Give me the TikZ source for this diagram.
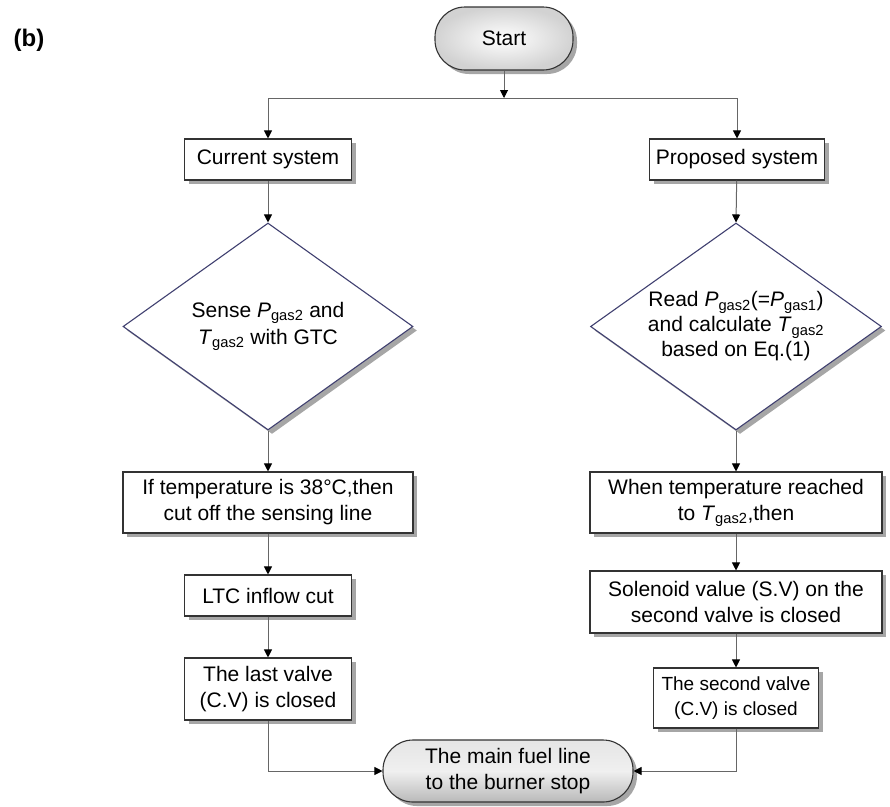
\documentclass[tikz,border=0pt]{standalone}
\usepackage{fontspec}
\setmainfont{Liberation Sans}
\usetikzlibrary{arrows.meta,shapes.geometric,shadows}
\newcommand{\sub}[2]{\textit{#1}\textsubscript{#2}}
\begin{document}
\begin{tikzpicture}[x=1pt,y=-1pt,
  every node/.style={font=\fontsize{21}{26}\selectfont, align=center, inner sep=0pt},
  shad/.style={drop shadow={shadow xshift=4pt, shadow yshift=-4pt, fill=gray!70, opacity=1}},
  procbox/.style={draw=black!80, line width=1.1pt, fill=white, shad},
  decbox/.style={shape=diamond, draw=blue!25!black!75, line width=1.1pt, fill=white, shad},
  termbox/.style={draw=black!80, line width=1.1pt, rounded corners=30pt, shad},
  conn/.style={draw=black!60, line width=1pt, -{Triangle[width=8pt,length=8pt,fill=black,color=black]}},
  plain/.style={draw=black!60, line width=1pt}
]
\useasboundingbox (0,0) rectangle (890,806);

\node[font=\fontsize{24}{28}\selectfont\bfseries] (lab) at (29,40) {(b)};

\node[termbox, minimum width=138pt, minimum height=63pt, inner color=white, outer color=gray!35] (start) at (504,38.5) {Start};
\coordinate (split) at (504,98);

\node[procbox, minimum width=167pt, minimum height=41pt] (cur) at (268,159.5) {Current system};
\node[procbox, minimum width=175pt, minimum height=41pt] (prop) at (737,159.5) {Proposed system};

\node[decbox, minimum width=290pt, minimum height=207pt,
  label={[align=center, font=\fontsize{21}{27}\selectfont]center:Sense \sub{P}{gas2} and\\\sub{T}{gas2} with GTC}] (d1) at (268,326.5) {};
\node[decbox, minimum width=291pt, minimum height=207pt,
  label={[align=center, font=\fontsize{21}{25}\selectfont]center:Read \sub{P}{gas2}(=\sub{P}{gas1})\\and calculate \sub{T}{gas2}\\based on Eq.(1)}] (d2) at (736,326.5) {};

\node[procbox, minimum width=290pt, minimum height=61pt] (iftemp) at (268,502.5) {If temperature is 38°C,then\\cut off the sensing line};
\node[procbox, minimum width=167pt, minimum height=41pt] (ltc) at (268,595.5) {LTC inflow cut};
\node[procbox, minimum width=167pt, minimum height=62pt] (last) at (268,689) {The last valve\\(C.V) is closed};

\node[procbox, minimum width=292pt, minimum height=61pt] (when) at (736,502.5) {When temperature reached\\to \sub{T}{gas2},then};
\node[procbox, minimum width=292pt, minimum height=62pt] (sol) at (736,602) {Solenoid value (S.V) on the\\second valve is closed};
\node[procbox, minimum width=165pt, minimum height=60pt, font=\fontsize{19}{25}\selectfont] (second) at (736,698) {The second valve\\(C.V) is closed};

\node[termbox, minimum width=250pt, minimum height=62pt, top color=gray!20, bottom color=gray!55, middle color=gray!12] (stop) at (508,771) {The main fuel line\\to the burner stop};

\draw[conn] (start) -- (split);
\draw[conn] (split) -| (cur.north);
\draw[conn] (split) -| (prop.north);
\draw[conn] (cur) -- (d1.north);
\draw[conn] (prop) -- (d2.north);
\draw[conn] (d1.south) -- (iftemp);
\draw[conn] (d2.south) -- (when);
\draw[conn] (iftemp) -- (ltc);
\draw[conn] (ltc) -- (last);
\draw[conn] (when) -- (sol);
\draw[conn] (sol) -- (second);
\draw[conn] (last.south) |- (stop.west);
\draw[conn] (second.south) |- (stop.east);
\end{tikzpicture}
\end{document}
